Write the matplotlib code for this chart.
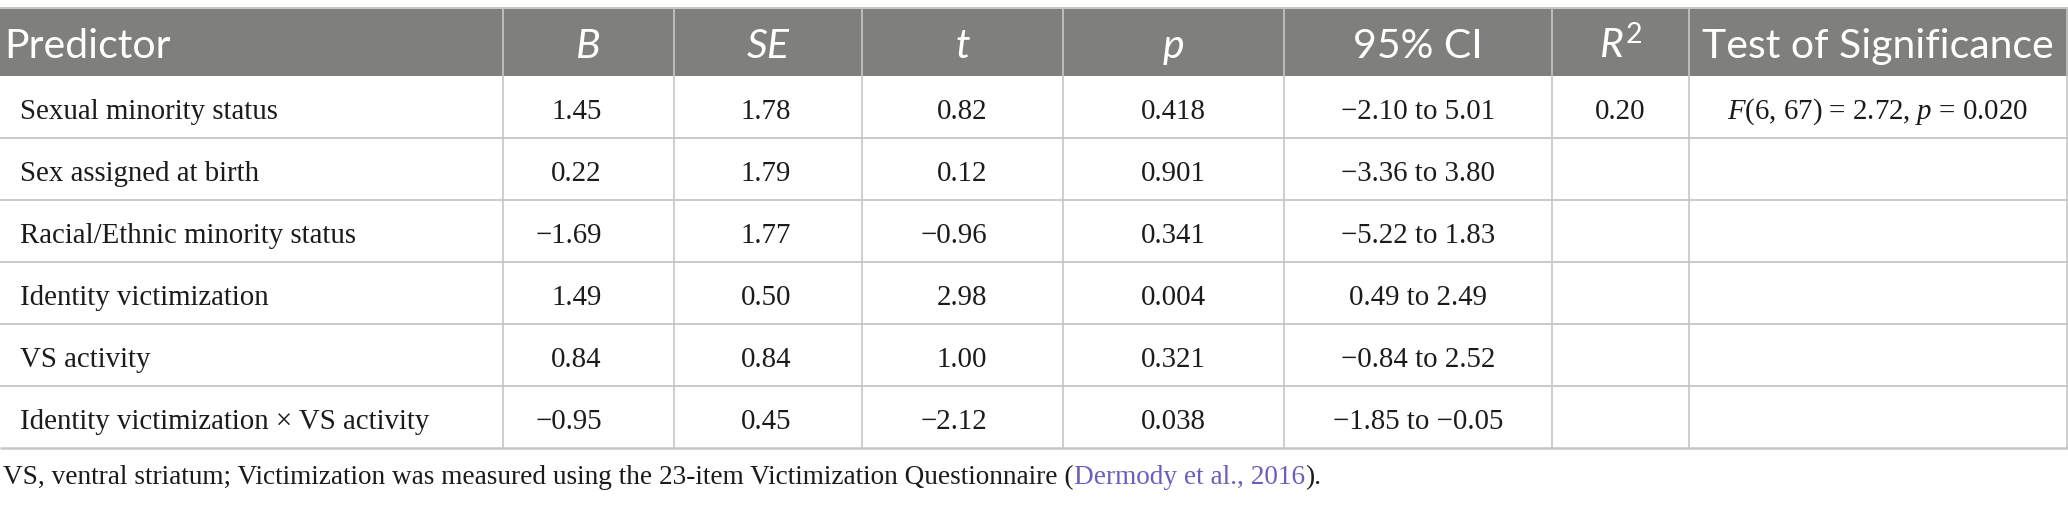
import matplotlib.pyplot as plt
from matplotlib.patches import Rectangle

# dane tabeli
naglowki = ['Predictor', 'B', 'SE', 't', 'p', '95% CI', '$R^2$', 'Test of Significance']
naglowki_kursywa = [False, True, True, True, True, False, False, False]
predyktory = [
    'Sexual minority status',
    'Sex assigned at birth',
    'Racial/Ethnic minority status',
    'Identity victimization',
    'VS activity',
    'Identity victimization × VS activity',
]
B = [1.45, 0.22, -1.69, 1.49, 0.84, -0.95]
SE = [1.78, 1.79, 1.77, 0.50, 0.84, 0.45]
T = [0.82, 0.12, -0.96, 2.98, 1.00, -2.12]
P = [0.418, 0.901, 0.341, 0.004, 0.321, 0.038]
CI_DOL = [-2.10, -3.36, -5.22, 0.49, -0.84, -1.85]
CI_GORA = [5.01, 3.80, 1.83, 2.49, 2.52, -0.05]
R2 = 0.20
F_DF = (6, 67)
F_WART = 2.72
F_P = 0.020
PRZYPIS = 'VS, ventral striatum; Victimization was measured using the 23-item Victimization Questionnaire ('
CYTAT = 'Dermody et al., 2016'

# układ (piksele)
SZER, WYS = 2068, 505
KOLUMNY = [0, 503, 674, 862, 1063, 1284, 1552, 1689, 2067]
GORA = 8
DOL_NAGLOWKA = 76
WYS_WIERSZA = 62
SZARY = '#7f807e'
LINIA = '#c6c6c6'
TEKST = '#1c1a1b'
SERIF = 'Liberation Serif'
SANS = 'Lato'
ROZM_NAGL = 29.5
ROZM = 20.8
ROZM_PRZYPISU = 19.6

plt.rcParams['mathtext.fontset'] = 'custom'
plt.rcParams['mathtext.rm'] = SANS
plt.rcParams['mathtext.it'] = SANS + ':italic'
plt.rcParams['mathtext.sf'] = SERIF + ':italic'


def liczba(v, miejsca=2):
    return f'{v:.{miejsca}f}'.replace('-', '\u2212')


fig = plt.figure(figsize=(SZER / 100, WYS / 100), dpi=100)
ax = fig.add_axes([0, 0, 1, 1])
ax.set_xlim(0, SZER)
ax.set_ylim(WYS, 0)
ax.axis('off')

dol_tabeli = DOL_NAGLOWKA + WYS_WIERSZA * len(predyktory)

ax.add_patch(Rectangle((0, GORA), SZER, DOL_NAGLOWKA - GORA, color=SZARY, lw=0, zorder=1))
ax.hlines(GORA, 0, SZER, color=LINIA, lw=1.5, zorder=2)
for i in range(1, len(predyktory) + 1):
    ax.hlines(DOL_NAGLOWKA + i * WYS_WIERSZA, 0, SZER, color=LINIA,
              lw=1.8 if i == len(predyktory) else 1.3, zorder=2)
ax.vlines(KOLUMNY[1:], GORA, dol_tabeli, color=LINIA, lw=1.2, zorder=2)

srodki = [(a + b) / 2 for a, b in zip(KOLUMNY[:-1], KOLUMNY[1:])]
for j, (tekst, kurs) in enumerate(zip(naglowki, naglowki_kursywa)):
    x = 4 if j == 0 else srodki[j]
    ax.text(x, 58, tekst, family=SANS, size=ROZM_NAGL, color='white',
            style='italic' if kurs else 'normal',
            ha='left' if j == 0 else 'center', va='baseline', zorder=3)

# prawe krawędzie liczb w kolumnach B, SE, t
PRAWE = [602, 791, 987]
for i, nazwa in enumerate(predyktory):
    y = DOL_NAGLOWKA + i * WYS_WIERSZA + 43
    opcje = dict(family=SERIF, size=ROZM, color=TEKST, va='baseline', zorder=3)
    ax.text(20, y, nazwa, ha='left', **opcje)
    for x, kol in zip(PRAWE, (B, SE, T)):
        ax.text(x, y, liczba(kol[i]), ha='right', **opcje)
    ax.text(srodki[4], y, liczba(P[i], 3), ha='center', **opcje)
    ax.text(srodki[5], y, f'{liczba(CI_DOL[i])} to {liczba(CI_GORA[i])}', ha='center', **opcje)
    if i == 0:
        ax.text(srodki[6], y, liczba(R2), ha='center', **opcje)
        test = (r'$\mathsf{F}$' + f'({F_DF[0]}, {F_DF[1]}) = {F_WART:.2f}, '
                + r'$\mathsf{p}$' + f' = {F_P:.3f}')
        ax.text(srodki[7], y, test, ha='center', **opcje)

stopka = ax.text(3, 484, PRZYPIS, family=SERIF, size=ROZM_PRZYPISU, color=TEKST,
                 ha='left', va='baseline')
cyt = ax.annotate(CYTAT, xy=(1, 0), xycoords=stopka, family=SERIF, size=ROZM_PRZYPISU,
                  color='#6a5fbf', ha='left', va='bottom')
ax.annotate(').', xy=(1, 0), xycoords=cyt, family=SERIF, size=ROZM_PRZYPISU,
            color=TEKST, ha='left', va='bottom')

fig.savefig('out.png', dpi=100)
